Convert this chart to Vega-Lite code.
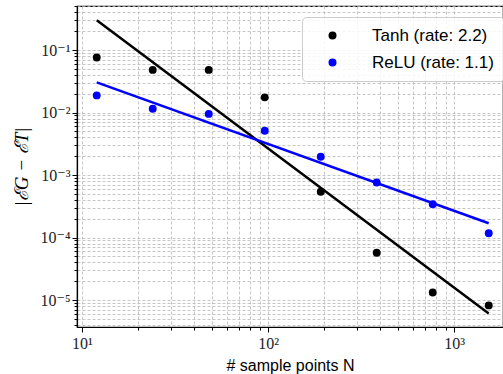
{
  "$schema": "https://vega.github.io/schema/vega-lite/v6.json",
  "width": 426,
  "height": 321,
  "autosize": {"type": "none"},
  "padding": {"left": 77, "top": 6, "right": 0, "bottom": 47},
  "background": "white",
  "config": {
    "view": {"stroke": "black", "strokeWidth": 1.2},
    "axis": {
      "domainColor": "black",
      "domainWidth": 1.2,
      "tickColor": "black",
      "grid": true,
      "gridColor": "#b8b8b8",
      "gridDash": [3, 2],
      "gridWidth": 0.8,
      "labelFont": "Liberation Serif, DejaVu Serif",
      "labelFontSize": 16,
      "labelColor": "#222222",
      "titleColor": "black",
      "titleFontWeight": "normal"
    }
  },
  "datasets": {
    "pts": [
      {"N": 12, "err": 0.076, "series": "Tanh (rate: 2.2)"},
      {"N": 24, "err": 0.048, "series": "Tanh (rate: 2.2)"},
      {"N": 48, "err": 0.048, "series": "Tanh (rate: 2.2)"},
      {"N": 96, "err": 0.0175, "series": "Tanh (rate: 2.2)"},
      {"N": 192, "err": 0.00054, "series": "Tanh (rate: 2.2)"},
      {"N": 384, "err": 0.000057, "series": "Tanh (rate: 2.2)"},
      {"N": 768, "err": 0.0000132, "series": "Tanh (rate: 2.2)"},
      {"N": 1536, "err": 0.0000082, "series": "Tanh (rate: 2.2)"},
      {"N": 12, "err": 0.0188, "series": "ReLU (rate: 1.1)"},
      {"N": 24, "err": 0.0115, "series": "ReLU (rate: 1.1)"},
      {"N": 48, "err": 0.0095, "series": "ReLU (rate: 1.1)"},
      {"N": 96, "err": 0.0051, "series": "ReLU (rate: 1.1)"},
      {"N": 192, "err": 0.00196, "series": "ReLU (rate: 1.1)"},
      {"N": 384, "err": 0.00076, "series": "ReLU (rate: 1.1)"},
      {"N": 768, "err": 0.00034, "series": "ReLU (rate: 1.1)"},
      {"N": 1536, "err": 0.000117, "series": "ReLU (rate: 1.1)"}
    ],
    "fit": [
      {"N": 12, "err": 0.30, "series": "Tanh (rate: 2.2)"},
      {"N": 1536, "err": 0.0000061, "series": "Tanh (rate: 2.2)"},
      {"N": 12, "err": 0.0304, "series": "ReLU (rate: 1.1)"},
      {"N": 1536, "err": 0.000169, "series": "ReLU (rate: 1.1)"}
    ]
  },
  "layer": [
    {
      "data": {"name": "pts"},
      "mark": {"type": "circle", "size": 62, "opacity": 1},
      "encoding": {
        "x": {
          "field": "N", "type": "quantitative",
          "scale": {"type": "log", "domain": [9.4, 1833], "nice": false},
          "axis": {
            "title": "# sample points N",
            "titleFont": "Liberation Sans",
            "titleFontSize": 16,
            "titlePadding": 6,
            "values": [10, 20, 30, 40, 50, 60, 70, 80, 90, 100, 200, 300, 400, 500, 600, 700, 800, 900, 1000],
            "labelExpr": "datum.value == 10 ? '10¹' : datum.value == 100 ? '10²' : datum.value == 1000 ? '10³' : ''",
            "tickSize": {"condition": {"test": "datum.value == 10 || datum.value == 100 || datum.value == 1000", "value": 5}, "value": 3},
            "labelPadding": 3
          }
        },
        "y": {
          "field": "err", "type": "quantitative",
          "scale": {"type": "log", "domain": [0.0000037, 0.506], "nice": false},
          "axis": {
            "title": "|ℰG − ℰT|",
            "titleFont": "Liberation Serif, DejaVu Serif",
            "titleFontStyle": "italic",
            "titleFontSize": 19,
            "titlePadding": 8,
            "values": [0.000004, 0.000005, 0.000006, 0.000007, 0.000008, 0.000009, 0.00001, 0.00002, 0.00003, 0.00004, 0.00005, 0.00006, 0.00007, 0.00008, 0.00009, 0.0001, 0.0002, 0.0003, 0.0004, 0.0005, 0.0006, 0.0007, 0.0008, 0.0009, 0.001, 0.002, 0.003, 0.004, 0.005, 0.006, 0.007, 0.008, 0.009, 0.01, 0.02, 0.03, 0.04, 0.05, 0.06, 0.07, 0.08, 0.09, 0.1, 0.2, 0.3, 0.4, 0.5],
            "labelExpr": "datum.value == 0.1 ? '10⁻¹' : datum.value == 0.01 ? '10⁻²' : datum.value == 0.001 ? '10⁻³' : datum.value == 0.0001 ? '10⁻⁴' : datum.value == 0.00001 ? '10⁻⁵' : ''",
            "tickSize": {"condition": {"test": "datum.value == 0.1 || datum.value == 0.01 || datum.value == 0.001 || datum.value == 0.0001 || datum.value == 0.00001", "value": 5}, "value": 3},
            "labelPadding": 2
          }
        },
        "color": {
          "field": "series", "type": "nominal",
          "scale": {"domain": ["Tanh (rate: 2.2)", "ReLU (rate: 1.1)"], "range": ["#000000", "#0000ff"]},
          "legend": {
            "title": null,
            "orient": "none",
            "legendX": 225,
            "legendY": 11,
            "padding": 10,
            "symbolType": "circle",
            "symbolSize": 64,
            "symbolOffset": 12,
            "labelOffset": 31,
            "labelFont": "Liberation Sans",
            "labelFontSize": 17,
            "labelColor": "black",
            "rowPadding": 9,
            "fillColor": "rgba(255,255,255,0.85)",
            "strokeColor": "#cccccc",
            "cornerRadius": 4
          }
        }
      }
    },
    {
      "data": {"name": "fit"},
      "mark": {"type": "line", "strokeWidth": 2.5},
      "encoding": {
        "x": {"field": "N", "type": "quantitative"},
        "y": {"field": "err", "type": "quantitative"},
        "color": {
          "field": "series", "type": "nominal",
          "scale": {"domain": ["Tanh (rate: 2.2)", "ReLU (rate: 1.1)"], "range": ["#000000", "#0000ff"]},
          "legend": null
        }
      }
    }
  ],
  "resolve": {"scale": {"color": "independent"}}
}
